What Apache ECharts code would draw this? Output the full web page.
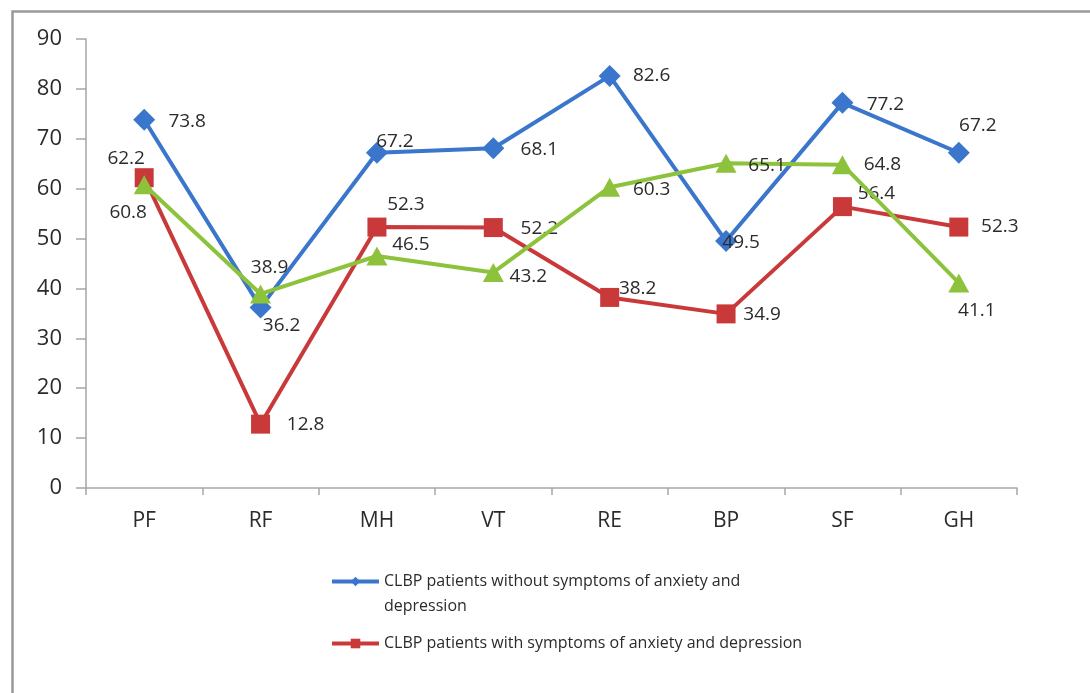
<!DOCTYPE html>
<html>
<head>
<meta charset="utf-8">
<script src="https://cdn.jsdelivr.net/npm/echarts@6/dist/echarts.min.js"></script>
<style>
html,body{margin:0;padding:0;background:#fff;}
#chart{width:1090px;height:693px;}
</style>
</head>
<body>
<div id="chart"></div>
<script>
// ---- data ----
const categories = ['PF', 'RF', 'MH', 'VT', 'RE', 'BP', 'SF', 'GH'];
const seriesNames = [
  'CLBP patients without symptoms of anxiety and depression',
  'CLBP patients with symptoms of anxiety and depression',
  'Third group'
];
const blueValues  = [73.8, 36.2, 67.2, 68.1, 82.6, 49.5, 77.2, 67.2];
const redValues   = [62.2, 12.8, 52.3, 52.2, 38.2, 34.9, 56.4, 52.3];
const greenValues = [60.8, 38.9, 46.5, 43.2, 60.3, 65.1, 64.8, 41.1];
const yTicks = [0, 10, 20, 30, 40, 50, 60, 70, 80, 90];

// ---- label placement (style, not data) ----
const blueOffsets  = [[43,2],[21,18],[18,-11],[46,1],[42,0],[15,2],[43,2],[19,-27]];
const redOffsets   = [[-18,-19],[45,0],[29,-22],[46,1],[28,-9],[36,1],[34,-13],[41,0]];
const greenOffsets = [[-16,28],[9,-26],[34,-11],[35,4],[42,2],[41,2],[40,0],[18,28]];

const FONT = '"Open Sans", "Noto Sans", sans-serif';
const COLORS = ['#3A76CC', '#C9393A', '#8DC33C'];

function withLabels(values, offsets) {
  return values.map((v, i) => ({ value: v, label: { offset: offsets[i] } }));
}

const labelBase = {
  show: true,
  position: 'inside',
  align: 'center',
  verticalAlign: 'middle',
  color: '#2b2b2b',
  fontSize: 19,
  fontFamily: FONT
};

const chart = echarts.init(document.getElementById('chart'), null, { renderer: 'canvas' });
chart.setOption({
  animation: false,
  backgroundColor: '#ffffff',
  graphic: [{
    type: 'rect',
    left: 10, top: 9,
    shape: { width: 1300, height: 900 },
    style: { fill: 'none', stroke: '#999999', lineWidth: 2.5 },
    silent: true, z: -10
  }],
  grid: { left: 86, right: 73, top: 39, bottom: 205 },
  legend: [{
    data: [seriesNames[0]],
    left: 330, top: 544, padding: 0,
    itemWidth: 47, itemHeight: 12,
    lineStyle: { width: 4 },
    formatter: function () { return ' \nCLBP patients without symptoms of anxiety and\ndepression'; },
    textStyle: { fontSize: 16, fontFamily: FONT, color: '#2b2b2b', lineHeight: 25 }
  }, {
    data: [seriesNames[1]],
    left: 330, top: 631, padding: 0,
    itemWidth: 47, itemHeight: 12,
    lineStyle: { width: 4 },
    textStyle: { fontSize: 16, fontFamily: FONT, color: '#2b2b2b', lineHeight: 25 }
  }],
  xAxis: {
    type: 'category',
    data: categories,
    boundaryGap: true,
    axisLine: { lineStyle: { color: '#a6a6a6', width: 1.5 } },
    axisTick: { show: true, length: 7, alignWithLabel: false, lineStyle: { color: '#a6a6a6', width: 1.5 } },
    axisLabel: { margin: 23, fontSize: 21, fontFamily: FONT, color: '#2b2b2b' },
    splitLine: { show: false }
  },
  yAxis: {
    type: 'value',
    min: yTicks[0],
    max: yTicks[yTicks.length - 1],
    interval: 10,
    axisLine: { show: true, lineStyle: { color: '#a6a6a6', width: 1.5 } },
    axisTick: { show: true, length: 10, lineStyle: { color: '#a6a6a6', width: 1.5 } },
    axisLabel: { margin: 24, fontSize: 22, fontFamily: FONT, color: '#2b2b2b' },
    splitLine: { show: false }
  },
  series: [{
    name: seriesNames[0],
    type: 'line',
    data: withLabels(blueValues, blueOffsets),
    symbol: 'diamond', symbolSize: 22,
    lineStyle: { color: COLORS[0], width: 4 },
    itemStyle: { color: COLORS[0] },
    label: labelBase,
    z: 2
  }, {
    name: seriesNames[1],
    type: 'line',
    data: withLabels(redValues, redOffsets),
    symbol: 'rect', symbolSize: 19,
    lineStyle: { color: COLORS[1], width: 4 },
    itemStyle: { color: COLORS[1] },
    label: labelBase,
    z: 3
  }, {
    name: seriesNames[2],
    type: 'line',
    data: withLabels(greenValues, greenOffsets),
    symbol: 'triangle', symbolSize: [21, 19],
    lineStyle: { color: COLORS[2], width: 4 },
    itemStyle: { color: COLORS[2] },
    label: labelBase,
    z: 4
  }]
});
</script>
</body>
</html>
